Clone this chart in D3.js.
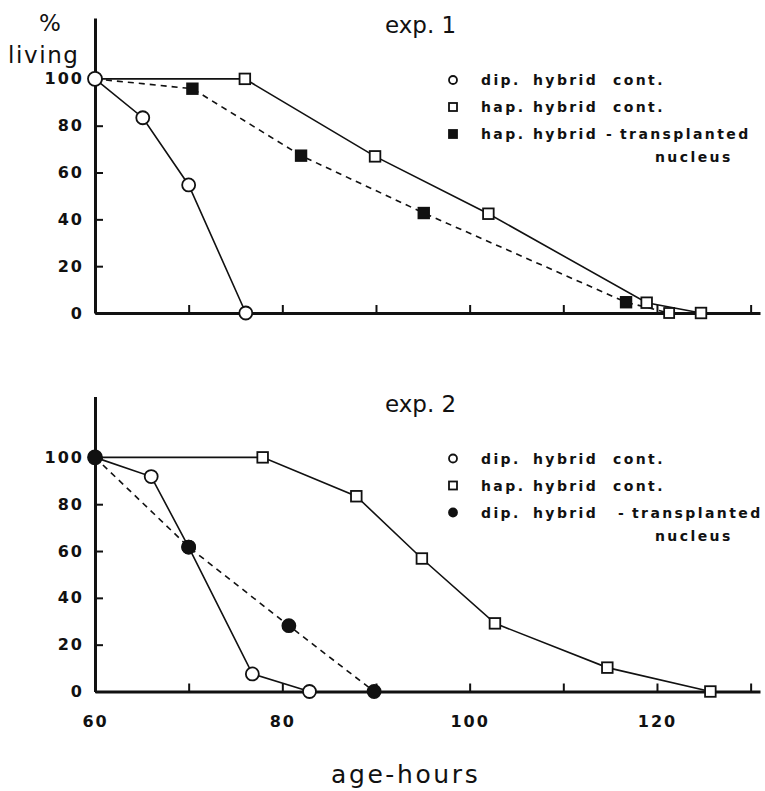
<!DOCTYPE html>
<html>
<head>
<meta charset="utf-8">
<script src="https://cdn.jsdelivr.net/npm/d3@7"></script>
<style>
  body { margin: 0; background: #fff; }
  svg { display: block; }
  .tick text { font-family: "DejaVu Sans", sans-serif; font-weight: bold; font-size: 16px; letter-spacing: 2px; fill: #111; }
</style>
</head>
<body>
<svg id="chart" width="765" height="791"></svg>
<script>
// ---- data (hours, % living) ----
const hourTicks = [60, 70, 80, 90, 100, 110, 120, 130];
const hourLabels = [60, 80, 100, 120];
const livingTicks = [0, 20, 40, 60, 80, 100];
const startPoint = [60, 100];

// exp. 1
const exp1DipCont = [[65.1, 83.4], [70, 54.7], [76.1, 0]];
const exp1HapCont = [[76, 100], [89.9, 66.9], [102, 42.4], [118.9, 4.4], [124.7, 0]];
const exp1HapTransplant = [[70.4, 95.8], [82, 67.2], [95.1, 42.7], [116.7, 4.6]];
const exp1HapTransplantEnd = [121.3, 0];
const exp1Legend = ["dip. hybrid cont.", "hap. hybrid cont.", "hap. hybrid - transplanted", "nucleus"];

// exp. 2
const exp2DipCont = [[66, 91.8], [70, 61.7], [76.8, 7.5], [82.9, 0]];
const exp2HapCont = [[77.9, 100], [87.9, 83.4], [94.9, 56.8], [102.7, 29.1], [114.7, 10.2], [125.7, 0]];
const exp2DipTransplant = [[70, 61.7], [80.7, 28.1], [89.8, 0]];
const exp2Legend = ["dip. hybrid cont.", "hap. hybrid cont.", "dip. hybrid - transplanted", "nucleus"];

const svg = d3.select("#chart");
const ink = "#111";

const x = d3.scaleLinear().domain([60, 131]).range([95, 760]);

const line = (y) => d3.line().x((d) => x(d[0])).y((d) => y(d[1]));

const drawMarker = (g, shape, filled, cx, cy, size) => {
  if (shape === "circle") {
    g.append("circle")
      .attr("cx", cx).attr("cy", cy).attr("r", size)
      .attr("fill", filled ? ink : "#fff")
      .attr("stroke", ink).attr("stroke-width", 1.8);
  } else {
    g.append("rect")
      .attr("x", cx - size).attr("y", cy - size)
      .attr("width", size * 2).attr("height", size * 2)
      .attr("fill", filled ? ink : "#fff")
      .attr("stroke", ink).attr("stroke-width", 1.8);
  }
};

const drawPanel = (panel) => {
  const y = d3.scaleLinear().domain([0, 126]).range([panel.bottom, panel.bottom - 295]);
  const g = svg.append("g");

  // axes
  const yAxis = g.append("g")
    .attr("transform", "translate(" + x(60) + ",0)")
    .call(d3.axisLeft(y).tickValues(livingTicks).tickSize(-8).tickSizeOuter(0).tickPadding(11));
  const xAxis = g.append("g")
    .attr("transform", "translate(0," + panel.bottom + ")")
    .call(
      d3.axisBottom(x)
        .tickValues(hourTicks)
        .tickSize(-8)
        .tickSizeOuter(0)
        .tickPadding(24)
        .tickFormat((d) => (panel.hourLabels && hourLabels.includes(d) ? d : ""))
    );
  [yAxis, xAxis].forEach((a) => {
    a.select(".domain").attr("stroke", ink).attr("stroke-width", 3);
    a.selectAll(".tick line").attr("stroke", ink).attr("stroke-width", 2);
  });
  xAxis.selectAll(".tick").filter((d) => d === 60).select("line").remove();

  // lines
  panel.series.forEach((s) => {
    let pts = [startPoint].concat(s.points);
    if (s.end) pts = pts.concat([s.end]);
    g.append("path")
      .attr("d", line(y)(pts))
      .attr("fill", "none")
      .attr("stroke", ink)
      .attr("stroke-width", 1.6)
      .attr("stroke-dasharray", s.dashed ? "6,5" : null);
  });

  // markers
  panel.series.forEach((s) => {
    if (s.end) drawMarker(g, "square", false, x(s.end[0]), y(s.end[1]), 5);
    s.points.forEach((p) => {
      drawMarker(g, s.shape, s.filled, x(p[0]), y(p[1]), s.shape === "circle" ? 6.5 : 5.3);
    });
  });
  drawMarker(g, "circle", panel.startFilled, x(startPoint[0]), y(startPoint[1]), 7);

  // title
  g.append("text")
    .attr("x", 385).attr("y", panel.bottom - 280)
    .attr("font-family", "DejaVu Sans, sans-serif")
    .attr("font-size", 23)
    .attr("fill", ink)
    .text(panel.title);

  // legend
  const legendTop = panel.bottom - 228;
  panel.legend.forEach((row, i) => {
    const baseline = legendTop + [0, 27, 54, 77][i];
    const words = row.split(" ");
    const cols = i === 3 ? [655] : i === 2 ? panel.transCols : [481, 533, 613];
    words.forEach((w, j) => {
      g.append("text")
        .attr("x", cols[j]).attr("y", baseline)
        .attr("font-family", "DejaVu Sans, sans-serif")
        .attr("font-weight", "bold")
        .attr("font-size", 14)
        .attr("letter-spacing", 2.4)
        .attr("fill", ink)
        .text(w);
    });
    if (i < 3) {
      const s = panel.series[i];
      drawMarker(g, s.shape, s.filled, 453, baseline - 5, 4);
    }
  });
};

drawPanel({
  bottom: 313,
  title: "exp. 1",
  hourLabels: false,
  startFilled: false,
  legend: exp1Legend,
  transCols: [481, 533, 606, 620],
  series: [
    { points: exp1DipCont, shape: "circle", filled: false, dashed: false },
    { points: exp1HapCont, shape: "square", filled: false, dashed: false },
    { points: exp1HapTransplant, shape: "square", filled: true, dashed: true, end: exp1HapTransplantEnd }
  ]
});

drawPanel({
  bottom: 691.5,
  title: "exp. 2",
  hourLabels: true,
  startFilled: true,
  legend: exp2Legend,
  transCols: [481, 533, 618, 632],
  series: [
    { points: exp2DipCont, shape: "circle", filled: false, dashed: false },
    { points: exp2HapCont, shape: "square", filled: false, dashed: false },
    { points: exp2DipTransplant, shape: "circle", filled: true, dashed: true }
  ]
});

// axis titles
svg.append("text")
  .attr("x", 39).attr("y", 31)
  .attr("font-family", "DejaVu Sans, sans-serif")
  .attr("font-size", 23)
  .attr("fill", ink)
  .text("%");
svg.append("text")
  .attr("x", 8).attr("y", 63)
  .attr("font-family", "DejaVu Sans, sans-serif")
  .attr("font-size", 23)
  .attr("letter-spacing", 1.6)
  .attr("fill", ink)
  .text("living");
svg.append("text")
  .attr("x", 331).attr("y", 783)
  .attr("font-family", "DejaVu Sans, sans-serif")
  .attr("font-size", 25)
  .attr("letter-spacing", 2.6)
  .attr("fill", ink)
  .text("age-hours");
</script>
</body>
</html>
